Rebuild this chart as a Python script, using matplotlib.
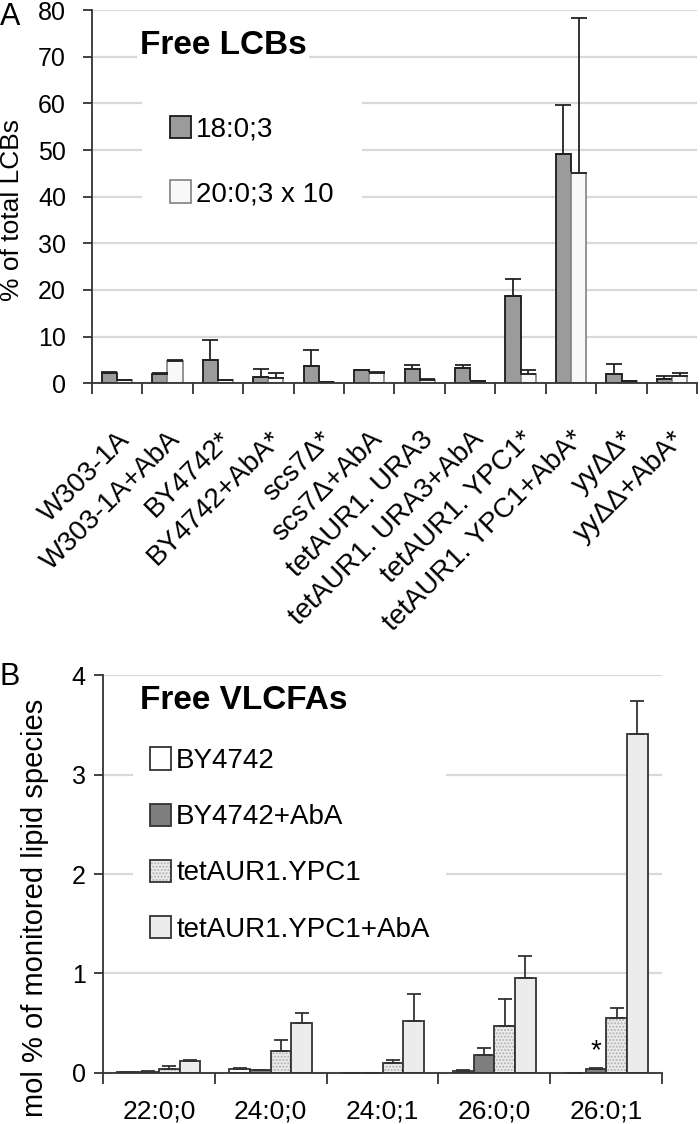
import matplotlib
matplotlib.use('Agg')
import matplotlib.pyplot as plt
from matplotlib.patches import Patch
import numpy as np

plt.rcParams['font.family'] = ['Liberation Sans', 'DejaVu Sans']

# ---------------- Panel A data ----------------
strains = ['W303-1A', 'W303-1A+AbA', 'BY4742*', 'BY4742+AbA*', 'scs7\u0394*',
           'scs7\u0394+AbA', 'tetAUR1. URA3', 'tetAUR1. URA3+AbA', 'tetAUR1. YPC1*',
           'tetAUR1. YPC1+AbA*', 'yy\u0394\u0394*', 'yy\u0394\u0394+AbA*']
lcb18 = [2.3, 2.0, 5.0, 1.4, 3.7, 2.8, 3.1, 3.3, 18.7, 49.1, 2.0, 0.9]
lcb18_err = [0.1, 0.1, 4.3, 1.6, 3.5, 0.1, 0.8, 0.7, 3.6, 10.6, 2.2, 0.6]
lcb20x10 = [0.6, 4.8, 0.7, 1.2, 0.3, 2.3, 0.8, 0.4, 2.0, 45.1, 0.4, 1.6]
lcb20x10_err = [0.1, 0.1, 0.1, 1.1, 0.05, 0.1, 0.1, 0.05, 0.9, 33.2, 0.05, 0.6]
legendA = ['18:0;3', '20:0;3 x 10']

# ---------------- Panel B data ----------------
species = ['22:0;0', '24:0;0', '24:0;1', '26:0;0', '26:0;1']
by4742 = [0.010, 0.037, 0.0, 0.023, 0.0]
by4742_err = [0.004, 0.010, 0.0, 0.004, 0.0]
by4742_aba = [0.012, 0.033, 0.003, 0.178, 0.037]
by4742_aba_err = [0.003, 0.0, 0.0, 0.070, 0.017]
tet_ypc1 = [0.037, 0.218, 0.097, 0.472, 0.553]
tet_ypc1_err = [0.030, 0.117, 0.034, 0.275, 0.100]
tet_ypc1_aba = [0.117, 0.499, 0.526, 0.958, 3.41]
tet_ypc1_aba_err = [0.017, 0.104, 0.264, 0.222, 0.33]
legendB = ['BY4742', 'BY4742+AbA', 'tetAUR1.YPC1', 'tetAUR1.YPC1+AbA']

GRID = '#d9d9d9'
FS_TICK = 18
FS_LEG = 20
FS_TITLE = 24

fig = plt.figure(figsize=(7.0, 11.24), dpi=100)

def style_axes(ax, ypad):
    for s in ['top', 'right']:
        ax.spines[s].set_visible(False)
    for s in ['left', 'bottom']:
        ax.spines[s].set_color('#333333')
        ax.spines[s].set_linewidth(1.3)
    ax.yaxis.grid(True, color=GRID, linewidth=1.6)
    ax.set_axisbelow(True)
    ax.tick_params(axis='y', direction='out', length=6.5, width=1.3, color='#333333',
                   labelsize=FS_TICK, pad=ypad)

# ---------------- Panel A ----------------
axA = fig.add_axes([0.131, 0.659, 0.865, 0.332])
style_axes(axA, 12)
x = np.arange(len(strains))
w = 0.3
ekw = dict(elinewidth=1.3, capthick=1.3, ecolor='#222222')
axA.bar(x - w / 2, lcb18, w, color='#9b9b9b', edgecolor='#1a1a1a', linewidth=1.3,
        yerr=[np.zeros(len(x)), lcb18_err], capsize=6, error_kw=ekw, label=legendA[0])
axA.bar(x + w / 2, lcb20x10, w, color='#f8f8f8', edgecolor='#8a8a8a', linewidth=1.3,
        yerr=[np.zeros(len(x)), lcb20x10_err], capsize=6, error_kw=ekw, label=legendA[1])
axA.set_xlim(-0.5, len(strains) - 0.5)
axA.set_ylim(0, 80)
axA.set_yticks(np.arange(0, 81, 10))
axA.set_xticks(x)
axA.set_xticklabels(strains, rotation=45, ha='right', rotation_mode='anchor', fontsize=20)
axA.set_xticks(np.arange(-0.5, len(strains), 1), minor=True)
axA.tick_params(axis='x', which='major', length=0, pad=31)
axA.tick_params(axis='x', which='minor', direction='out', length=8, width=1.3, color='#333333')
axA.set_ylabel('% of total LCBs', fontsize=19)
axA.yaxis.set_label_coords(-0.111, 0.464)
axA.text(0.079, 0.906, 'Free LCBs', transform=axA.transAxes, fontsize=FS_TITLE,
         fontweight='bold', va='center', ha='left',
         bbox=dict(facecolor='white', edgecolor='none', pad=2))
legA = axA.legend(loc='upper left', bbox_to_anchor=(0.083, 0.790), borderaxespad=0,
                  fontsize=FS_LEG, handlelength=0.75, handleheight=0.85, handletextpad=0.2,
                  labelspacing=1.35, frameon=True, facecolor='white', edgecolor='none',
                  framealpha=1.0, fancybox=False, borderpad=1.0)
fig.text(0.0, 0.985, 'A', fontsize=22, va='center', ha='left')

# ---------------- Panel B ----------------
axB = fig.add_axes([0.147, 0.0454, 0.799, 0.354])
style_axes(axB, 6)
xb = np.arange(len(species))
wb = 0.185
offs = np.array([-1.5, -0.5, 0.5, 1.5]) * wb
ekwb = dict(elinewidth=1.3, capthick=1.3, ecolor='#333333')
z = np.zeros(len(xb))
axB.bar(xb + offs[0], by4742, wb, color='white', edgecolor='#333333', linewidth=1.3,
        yerr=[z, by4742_err], capsize=5, error_kw=ekwb)
axB.bar(xb + offs[1], by4742_aba, wb, color='#7f7f7f', edgecolor='#333333', linewidth=1.3,
        yerr=[z, by4742_aba_err], capsize=5, error_kw=ekwb)
axB.bar(xb + offs[2], tet_ypc1, wb, color='#ececec', edgecolor='#b0b0b0', linewidth=0,
        hatch='.....')
axB.bar(xb + offs[2], tet_ypc1, wb, color='none', edgecolor='#333333', linewidth=1.3,
        yerr=[z, tet_ypc1_err], capsize=5, error_kw=ekwb)
axB.bar(xb + offs[3], tet_ypc1_aba, wb, color='#ececec', edgecolor='#333333', linewidth=1.3,
        yerr=[z, tet_ypc1_aba_err], capsize=5, error_kw=ekwb)
axB.text(xb[4] + offs[1], by4742_aba[4] + by4742_aba_err[4] + 0.03, '*', ha='center',
         va='bottom', fontsize=20)
axB.set_xlim(-0.5, len(species) - 0.5)
axB.set_ylim(0, 4)
axB.set_yticks(np.arange(0, 5, 1))
axB.set_xticks(xb)
axB.set_xticklabels(species, fontsize=19)
axB.set_xticks(np.arange(-0.5, len(species), 1), minor=True)
axB.tick_params(axis='x', which='major', length=0, pad=19)
axB.tick_params(axis='x', which='minor', direction='out', length=8, width=1.3, color='#333333')
axB.set_ylabel('mol % of monitored lipid species', fontsize=21)
axB.yaxis.set_label_coords(-0.097, 0.415)
axB.text(0.066, 0.935, 'Free VLCFAs', transform=axB.transAxes, fontsize=FS_TITLE,
         fontweight='bold', va='center', ha='left',
         bbox=dict(facecolor='white', edgecolor='none', pad=2))
hB = [Patch(facecolor='white', edgecolor='#333333', linewidth=1.3),
      Patch(facecolor='#7f7f7f', edgecolor='#333333', linewidth=1.3),
      (Patch(facecolor='#ececec', edgecolor='#b0b0b0', linewidth=0, hatch='.....'),
       Patch(facecolor='none', edgecolor='#333333', linewidth=1.3)),
      Patch(facecolor='#ececec', edgecolor='#333333', linewidth=1.3)]
legB = axB.legend(hB, legendB, loc='upper left', bbox_to_anchor=(0.054, 0.860), borderaxespad=0,
                  fontsize=FS_LEG, handlelength=0.75, handleheight=0.85, handletextpad=0.2,
                  labelspacing=1.06, frameon=True, facecolor='white', edgecolor='none',
                  framealpha=1.0, fancybox=False, borderpad=0.6)
fig.text(0.0, 0.398, 'B', fontsize=22, va='center', ha='left')

fig.savefig('out.png', dpi=100)
